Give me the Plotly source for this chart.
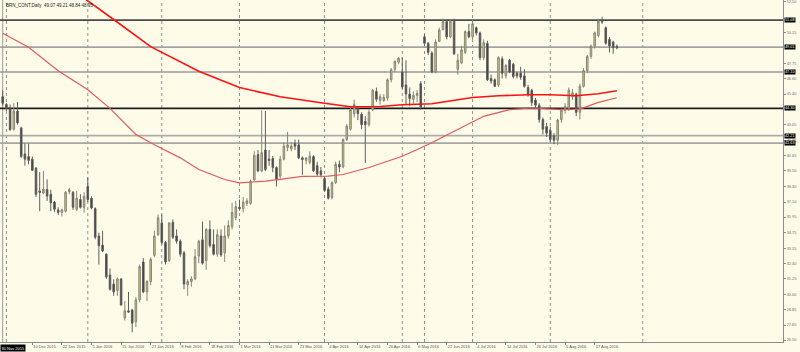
import plotly.graph_objects as go

# ---------------- data ----------------
opens = [45.2, 44.6, 44.35, 42.7, 44.1, 42.8, 40.8, 40.6, 40.4, 39.7,
         37.95, 37.8, 38.07, 37.7, 37.1, 36.5, 36.3, 36.4, 37.9, 37.85,
         36.55, 37.3, 36.7, 38.3, 37.4, 36.6, 34.5, 33.8, 33.1, 31.5,
         30.8, 30.3, 31.2, 28.2, 28.75, 28.8, 27.9, 29.6, 32.5, 30.2,
         31.0, 33.0, 34.6, 35.5, 34.0, 32.6, 35.55, 34.5, 34.1, 33.2,
         30.75, 31.0, 31.2, 32.95, 34.2, 32.6, 35.0, 33.85, 33.1, 34.5,
         33.2, 34.5, 35.2, 35.9, 36.7, 36.6, 37.0, 37.0, 38.8, 40.75,
         39.5, 41.1, 40.4, 40.45, 39.75, 39.1, 40.4, 41.3, 41.2, 41.6,
         41.5, 40.5, 40.3, 40.15, 40.6, 39.9, 39.5, 38.9, 38.1, 37.45,
         38.6, 40.0, 39.8, 41.9, 42.7, 43.9, 44.3, 43.85, 43.3, 43.05,
         44.2, 45.6, 44.9, 44.9, 45.1, 46.5, 47.3, 47.85, 47.1, 46.1,
         45.4, 45.0, 45.3, 46.2, 49.8, 49.3, 48.55, 47.1, 49.45, 50.35,
         50.97, 49.8, 51.0, 47.3, 47.8, 48.6, 50.2, 49.8, 50.5, 50.1,
         48.2, 49.3, 46.6, 46.5, 46.1, 48.1, 46.8, 48.0, 47.7, 47.0,
         47.0, 46.8, 45.9, 45.7, 44.95, 44.55, 43.45, 42.9, 42.6, 42.2,
         41.85, 43.45, 44.15, 44.3, 45.2, 45.4, 44.0, 46.0, 47.2, 48.3,
         49.1, 49.9, 51.0, 50.5, 49.6, 49.4, 49.07]
highs = [45.7, 44.7, 44.6, 44.7, 44.8, 42.9, 41.6, 41.6, 40.6, 39.8,
         39.4, 39.5, 38.85, 38.05, 37.2, 36.7, 36.6, 37.95, 38.2, 37.95,
         37.95, 37.7, 37.85, 39.0, 37.55, 36.7, 34.75, 34.9, 33.15, 32.0,
         31.17, 31.3, 31.25, 29.5, 30.2, 28.9, 29.8, 32.3, 32.8, 31.1,
         32.85, 34.9, 36.15, 36.15, 34.1, 35.55, 35.77, 35.0, 34.24, 33.35,
         31.17, 31.4, 33.5, 34.2, 35.6, 35.1, 35.7, 35.0, 35.0, 35.0,
         35.3, 35.7, 37.05, 37.2, 37.3, 37.5, 37.4, 38.84, 41.0, 41.1,
         44.15, 44.1, 41.1, 40.65, 39.85, 40.65, 41.7, 42.5, 41.7, 41.9,
         41.9, 40.6, 40.55, 41.0, 40.7, 40.2, 39.8, 39.1, 38.3, 38.7,
         40.2, 40.3, 42.0, 43.1, 44.4, 44.97, 44.4, 44.0, 43.7, 44.2,
         45.8, 45.9, 45.4, 45.4, 46.6, 47.4, 48.0, 48.25, 48.2, 48.0,
         45.9, 45.6, 45.7, 46.4, 50.0, 49.4, 48.7, 49.6, 50.5, 51.2,
         51.1, 51.1, 51.2, 48.5, 49.1, 50.3, 50.8, 51.1, 50.6, 50.2,
         49.6, 49.5, 46.9, 46.6, 48.3, 48.3, 47.7, 48.1, 47.8, 47.1,
         47.5, 47.3, 46.1, 45.8, 45.1, 44.7, 43.6, 43.2, 42.9, 42.4,
         43.5, 44.3, 44.7, 45.9, 45.8, 45.5, 46.2, 47.4, 48.4, 49.2,
         50.2, 51.2, 51.35, 50.6, 49.8, 49.5, 49.21]
lows = [44.5, 44.1, 42.6, 42.6, 43.05, 40.5, 39.9, 40.0, 39.5, 37.5,
        36.4, 37.7, 37.2, 36.4, 36.35, 36.1, 36.0, 36.3, 37.7, 36.5,
        36.4, 36.6, 36.3, 37.1, 36.55, 34.24, 32.3, 33.25, 31.2, 30.3,
        29.9, 29.9, 29.15, 28.0, 28.6, 27.1, 27.5, 29.4, 30.1, 29.5,
        30.7, 32.9, 34.5, 33.85, 32.3, 32.5, 34.25, 33.9, 32.9, 30.4,
        29.9, 30.6, 31.1, 32.4, 32.3, 31.9, 33.6, 33.0, 32.9, 32.9,
        32.5, 34.3, 35.0, 35.7, 36.45, 36.3, 36.8, 36.9, 38.7, 39.4,
        39.4, 39.5, 39.9, 39.4, 38.3, 38.9, 40.3, 41.0, 41.0, 41.1,
        40.4, 39.2, 40.0, 40.0, 39.4, 39.1, 39.0, 37.9, 37.3, 37.3,
        38.5, 39.4, 39.7, 41.8, 42.6, 43.6, 43.4, 42.7, 40.1, 42.9,
        44.1, 44.8, 44.6, 44.8, 44.9, 46.3, 47.1, 47.7, 45.8, 44.6,
        44.5, 44.6, 44.8, 44.2, 49.1, 48.4, 47.0, 47.0, 49.4, 50.3,
        49.6, 49.7, 48.4, 46.9, 47.7, 48.5, 49.7, 49.6, 49.9, 48.0,
        48.0, 46.4, 46.2, 45.95, 45.95, 46.6, 46.6, 47.0, 46.6, 46.6,
        46.5, 45.9, 45.2, 44.5, 44.3, 43.2, 42.3, 42.1, 41.7, 41.55,
        41.5, 43.2, 43.9, 44.1, 44.95, 43.7, 43.45, 45.9, 47.0, 48.1,
        48.9, 49.75, 50.8, 49.2, 48.6, 48.5, 48.84]
closes = [44.7, 44.3, 42.66, 44.1, 43.2, 40.6, 40.4, 40.3, 39.55, 37.7,
          37.85, 38.1, 37.56, 37.05, 36.55, 36.3, 36.5, 37.85, 38.05, 36.7,
          37.4, 36.7, 37.55, 37.3, 36.65, 34.4, 33.75, 33.35, 31.35, 30.4,
          30.2, 31.2, 29.2, 28.75, 28.65, 27.8, 29.6, 32.15, 30.2, 31.0,
          32.7, 34.5, 35.9, 34.0, 32.5, 35.5, 34.4, 34.1, 33.1, 30.8,
          31.0, 31.2, 32.9, 34.1, 32.4, 35.0, 33.75, 33.1, 34.6, 33.05,
          34.5, 35.3, 36.3, 36.75, 36.6, 37.1, 37.2, 38.7, 40.7, 39.5,
          40.9, 39.6, 40.3, 39.75, 38.84, 40.4, 41.4, 41.5, 41.4, 41.4,
          40.5, 40.37, 40.5, 40.65, 39.5, 39.25, 39.2, 38.0, 37.4, 38.6,
          40.0, 39.8, 41.9, 42.95, 44.2, 44.6, 43.9, 43.05, 43.05, 44.0,
          45.7, 45.0, 45.2, 45.15, 46.5, 47.27, 47.9, 48.15, 45.95, 45.4,
          45.05, 45.3, 45.45, 44.4, 49.3, 48.6, 47.1, 49.4, 50.33, 50.97,
          49.8, 50.97, 48.5, 48.0, 48.8, 50.2, 49.8, 50.8, 50.1, 48.2,
          49.35, 46.5, 46.4, 46.0, 48.2, 47.0, 47.6, 47.1, 46.75, 46.8,
          46.7, 46.0, 45.4, 44.75, 44.55, 43.45, 42.7, 42.4, 41.9, 41.85,
          43.4, 44.15, 44.45, 45.7, 45.5, 44.0, 46.0, 47.2, 48.3, 49.1,
          50.1, 51.0, 50.95, 49.3, 49.1, 48.95, 48.95]

ma_fast_bar = [16, 23, 30, 40, 53, 64, 75, 86, 94, 102, 108, 116, 127, 134, 142, 148, 155, 161, 166]
ma_fast_val = [54.0, 52.6, 51.13, 49.05, 47.15, 45.9, 45.2, 44.74, 44.43, 44.45, 44.58, 44.66,
               45.14, 45.27, 45.35, 45.35, 45.27, 45.43, 45.66]
ma_slow_bar = [0, 7, 15, 19, 23, 29, 32, 36, 41, 48, 53, 60, 64, 67, 71, 75, 81, 88, 92, 99,
               108, 115, 123, 130, 137, 143, 151, 156, 161, 166]
ma_slow_val = [50.08, 49.0, 47.2, 46.45, 45.73, 44.3, 43.43, 42.3, 41.5, 40.5, 39.6, 38.84,
               38.58, 38.63, 38.71, 38.84, 39.07, 39.09, 39.22, 39.76, 40.62, 41.52, 42.67,
               43.69, 44.2, 44.33, 44.2, 44.25, 44.76, 45.12]

# horizontal price levels drawn on the chart
levels = [51.08, 49.01, 47.10, 44.30, 42.21, 41.63]
level_colors = ["#4a4a4a", "#a3a3a3", "#9a9a9a", "#1c1c1c", "#ababab", "#a6a6a6"]

# price-axis tick labels
price_ticks = [52.50, 50.15, 47.75, 46.60, 45.40, 43.05, 41.85, 40.65, 39.50, 38.30, 37.10,
               35.95, 34.75, 33.55, 32.40, 31.20, 30.00, 28.85, 27.65, 26.50]

# time-axis labels (every 8th bar)
date_labels = ["10 Dec 2015", "22 Dec 2015", "5 Jan 2016", "15 Jan 2016", "27 Jan 2016",
               "8 Feb 2016", "18 Feb 2016", "1 Mar 2016", "11 Mar 2016", "23 Mar 2016",
               "4 Apr 2016", "14 Apr 2016", "26 Apr 2016", "6 May 2016", "22 Jun 2016",
               "4 Jul 2016", "14 Jul 2016", "26 Jul 2016", "5 Aug 2016", "17 Aug 2016"]

# first bar of each month (period separators)
month_starts = [1, 23, 43, 64, 87, 108, 114, 127, 148, 173]

header = "BRN_CONT,Daily  49.07 49.21 48.84 48.95"

# ---------------- figure ----------------
bg = "#fefce9"
FONT = "Liberation Sans, Arial"
bars = list(range(len(opens)))
fig = go.Figure()

fig.add_trace(go.Candlestick(
    x=bars, open=opens, high=highs, low=lows, close=closes,
    increasing=dict(fillcolor="#cdcd74", line=dict(color="#85857a", width=1)),
    decreasing=dict(fillcolor="#3a3a3a", line=dict(color="#5e5e5e", width=1)),
    whiskerwidth=0, hoverinfo="skip", showlegend=False))

fig.add_trace(go.Scatter(x=ma_slow_bar, y=ma_slow_val, mode="lines",
                         line=dict(color="#de5a5a", width=1.2), hoverinfo="skip",
                         showlegend=False))
fig.add_trace(go.Scatter(x=ma_fast_bar, y=ma_fast_val, mode="lines",
                         line=dict(color="#ff1010", width=1.6), hoverinfo="skip",
                         showlegend=False))

shapes = []
for m in month_starts:
    shapes.append(dict(type="line", xref="x", yref="paper", x0=m, x1=m, y0=0, y1=1,
                       line=dict(color="#8f8f8f", width=1, dash="dot"), layer="below"))
shapes.append(dict(type="line", xref="x", yref="paper", x0=0, x1=0, y0=0, y1=1,
                   line=dict(color="#9a9a9a", width=1), layer="below"))
for lv, col in zip(levels, level_colors):
    shapes.append(dict(type="line", xref="paper", yref="y", x0=0, x1=1, y0=lv, y1=lv,
                       line=dict(color=col, width=1.6), layer="below"))

annotations = [dict(xref="paper", yref="paper", x=0.005, y=1, xanchor="left", yanchor="top",
                    yshift=-1, text=header, showarrow=False,
                    font=dict(family=FONT, size=4.5, color="#222"))]
for lv in levels:
    annotations.append(dict(xref="paper", yref="y", x=1, y=lv, xanchor="left", yanchor="middle",
                            xshift=1, text=f"{lv:.2f}", showarrow=False, bgcolor="#000000",
                            borderpad=0,
                            font=dict(family=FONT, size=3.8, color="#ffffff")))
annotations.append(dict(xref="paper", yref="paper", x=0, y=0, xanchor="left", yanchor="top",
                        yshift=-2, text="30 Nov 2015", showarrow=False, bgcolor="#000000",
                        borderpad=0.5,
                        font=dict(family=FONT, size=4, color="#ffffff")))

fig.update_layout(
    width=800, height=352,
    margin=dict(l=0, r=17, t=0, b=10),
    plot_bgcolor=bg, paper_bgcolor=bg,
    showlegend=False, boxgap=0.4,
    shapes=shapes, annotations=annotations,
    xaxis=dict(range=[-0.73, 210.9], showgrid=False, zeroline=False,
               showline=True, linecolor="#8c8c8c", linewidth=1,
               ticks="outside", ticklen=2, tickcolor="#8c8c8c",
               tickvals=[8 * (i + 1) for i in range(len(date_labels))],
               ticktext=date_labels, ticklabelposition="outside right", tickangle=0,
               tickfont=dict(family=FONT, size=4, color="#555"),
               rangeslider=dict(visible=False), fixedrange=True),
    yaxis=dict(side="right", range=[26.35, 52.63], showgrid=False, zeroline=False,
               showline=True, linecolor="#8c8c8c", linewidth=1,
               ticks="outside", ticklen=2, tickcolor="#8c8c8c",
               tickvals=price_ticks, ticktext=[f"{t:.2f}" for t in price_ticks],
               tickfont=dict(family=FONT, size=3.8, color="#666"),
               fixedrange=True),
)

fig.write_html("out.html")
